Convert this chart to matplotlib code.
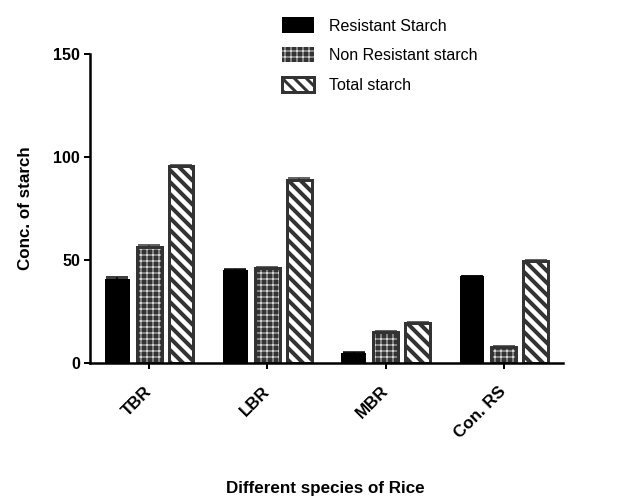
import numpy as np
import matplotlib.pyplot as plt

# --- Dữ liệu ---
species = ['TBR', 'LBR', 'MBR', 'Con. RS']
resistant = [41.0, 45.0, 5.0, 42.0]
non_resistant = [56.5, 46.0, 15.0, 8.0]
total = [95.5, 89.0, 19.5, 49.5]
err_resistant = [0.6, 0.5, 0.3, 0.3]
err_non_resistant = [0.7, 0.6, 0.4, 0.4]
err_total = [0.6, 0.6, 0.5, 0.4]
legend_labels = ['Resistant Starch', 'Non Resistant starch', 'Total starch']

plt.rcParams['font.family'] = ['Liberation Sans', 'DejaVu Sans']

DPI = 72
fig = plt.figure(figsize=(624 / DPI, 498 / DPI), dpi=DPI)
ax = fig.add_axes([90 / 624, 1 - 363 / 498, 473 / 624, 309 / 498])

x = np.arange(len(species))
w = 0.21
step = 0.27
dark = '#333333'


def set_hlw(patches, lw):
    for p in patches:
        if hasattr(p, 'set_hatch_linewidth'):
            p.set_hatch_linewidth(lw)


# Resistant starch: cột đen
b1 = ax.bar(x - step, resistant, w, color='black', edgecolor='black', linewidth=0)
ax.errorbar(x - step, resistant, yerr=[np.zeros(4), err_resistant], fmt='none',
            ecolor='black', elinewidth=1.5, capsize=11, capthick=1.5)

# Non resistant: nền xám đậm, hoa văn trắng
b2 = ax.bar(x, non_resistant, w, color=dark, edgecolor='white', hatch='++', linewidth=0)
set_hlw(b2, 0.8)
ax.bar(x, non_resistant, w, fill=False, edgecolor=dark, linewidth=3)
ax.errorbar(x, non_resistant, yerr=[np.zeros(4), err_non_resistant], fmt='none',
            ecolor=dark, elinewidth=1.5, capsize=11, capthick=1.5)

# Total starch: sọc chéo
b3 = ax.bar(x + step, total, w, color='white', edgecolor=dark, hatch='\\\\', linewidth=3)
set_hlw(b3, 4.0)
ax.errorbar(x + step, total, yerr=[np.zeros(4), err_total], fmt='none',
            ecolor=dark, elinewidth=1.5, capsize=11, capthick=1.5)

# Trục
ax.set_xlim(-0.5, 3.5)
ax.set_ylim(0, 150)
ax.set_yticks([0, 50, 100, 150])
ax.set_xticks(x)
ax.set_xticklabels(species, rotation=45, ha='right', va='center',
                   rotation_mode='anchor', fontweight='bold', fontsize=17)
for lbl in ax.get_yticklabels():
    lbl.set_fontweight('bold')
    lbl.set_fontsize(16)
for s in ['top', 'right']:
    ax.spines[s].set_visible(False)
for s in ['left', 'bottom']:
    ax.spines[s].set_linewidth(2.5)
ax.tick_params(direction='out', length=6, width=2, pad=4)
ax.tick_params(axis='x', pad=20)

ax.set_ylabel('Conc. of starch', fontsize=17, fontweight='bold', labelpad=20)
fig.text(325 / 624, 1 - 488 / 498, 'Different species of Rice', fontsize=17,
         fontweight='bold', ha='center', va='center')

# Chú thích
leg = fig.legend([b1, b2, b3], legend_labels, loc='upper left',
                 bbox_to_anchor=(268 / 624, 1 - 3 / 498), frameon=False, fontsize=16,
                 handlelength=2.0, handleheight=1.1, labelspacing=0.85, handletextpad=0.9)
handles = leg.legend_handles
set_hlw([handles[1]], 0.8)
set_hlw([handles[2]], 3.0)

fig.savefig('out.png', dpi=DPI)
